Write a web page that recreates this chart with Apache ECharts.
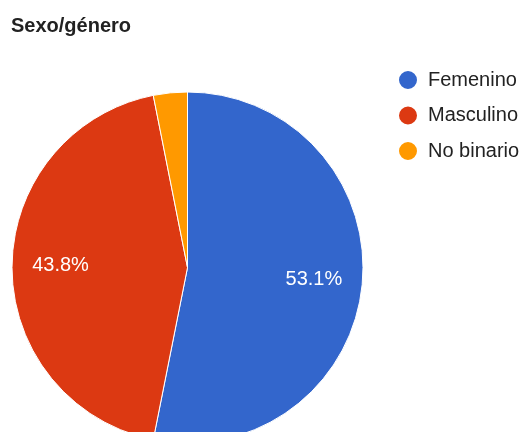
<!DOCTYPE html>
<html><head><meta charset="utf-8">
<script src="https://cdn.jsdelivr.net/npm/echarts@6/dist/echarts.min.js"></script>
<style>html,body{margin:0;padding:0;background:#fff}#c{width:520px;height:432px}</style>
</head><body><div id="c"></div>
<script>
const title = 'Sexo/género';
const categories = ['Femenino', 'Masculino', 'No binario'];
const values = [17, 14, 1];
const colors = ['#3366cc', '#dc3912', '#ff9900'];

const data = categories.map((n, i) => ({name: n, value: values[i], itemStyle: {color: colors[i]}}));
const total = values.reduce((a, b) => a + b, 0);
const chart = echarts.init(document.getElementById('c'), null, {renderer: 'canvas'});
const labelOffsets = [[0, 0], [0, -2], [0, 0]];
chart.setOption({
  animation: false,
  title: {text: title, left: 11, top: 16, padding: 0, textStyle: {fontFamily: 'Liberation Sans, Arial', fontSize: 20, fontWeight: 'bold', color: '#222'}},
  legend: {
    orient: 'vertical', left: 397, top: 69, padding: 0, icon: 'circle', itemWidth: 20, itemHeight: 20, itemGap: 13.5,
    data: categories,
    textStyle: {fontFamily: 'Liberation Sans, Arial', fontSize: 20, lineHeight: 20, color: '#222', padding: [0, 0, 0, 5]}
  },
  series: [{
    type: 'pie', center: [187.5, 267.5], radius: [0, 175.5], startAngle: 90, clockwise: true,
    data: data, label: {show: false}, labelLine: {show: false},
    itemStyle: {borderColor: '#fff', borderWidth: 1}, silent: true
  }, {
    type: 'pie', center: [187.5, 267.5], radius: [99, 149], startAngle: 90, clockwise: true,
    data: data.map((d, i) => ({name: d.name, value: d.value, itemStyle: {color: 'rgba(0,0,0,0)'}, label: {offset: labelOffsets[i]}})),
    legendHoverLink: false, silent: true,
    label: {show: true, position: 'inside', color: '#fff', fontFamily: 'Liberation Sans, Arial', fontSize: 20,
      formatter: p => (p.value / total >= 0.05 ? (p.value / total * 100).toFixed(1) + '%' : '')},
    labelLine: {show: false}
  }]
});
</script></body></html>
